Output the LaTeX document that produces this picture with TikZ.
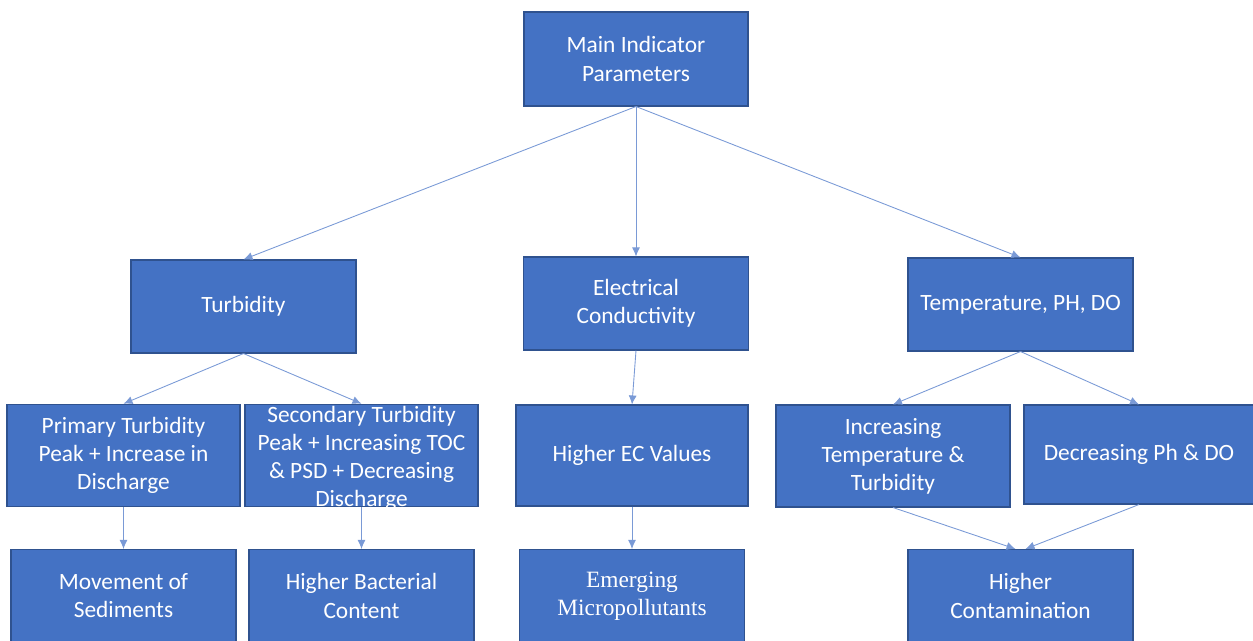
\documentclass[tikz,border=0pt]{standalone}
\usepackage{fontspec}
\usepackage{xcolor}
\setmainfont{Carlito}
\newfontfamily\serifnode{Liberation Serif}
\definecolor{boxblue}{RGB}{68,114,196}
\definecolor{boxedge}{RGB}{47,82,143}
\definecolor{linkblue}{RGB}{122,154,214}
\usetikzlibrary{positioning,
	arrows.meta}

\begin{document}
\begin{tikzpicture}[
        box/.style={draw=boxedge, line width=0.6pt, fill=boxblue, text=white, align=center,
            font=\fontsize{13.3}{16}\selectfont, minimum width=4.5cm, minimum height=1.86cm, inner sep=1pt},
        tall/.style={minimum width=4.66cm, minimum height=2.05cm},
        link/.style={draw=linkblue, line width=0.5pt, -{Latex[length=1.8mm, width=1.6mm]}}
    ]
    \clip (0, 0) rectangle (25.06, -12.82);

    % top level
    \node[box, minimum width=4.48cm, minimum height=1.88cm] (main) at (12.72, -1.18) {Main Indicator\\Parameters};

    % indicators
    \node[box] (turb) at (4.87, -6.13) {Turbidity};
    \node[box] (elec) at (12.72, -6.07) {Electrical\\Conductivity};
    \node[box] (temp) at (20.41, -6.09) {Temperature, PH, DO};

    % observations
    \node[box, tall] (prim) at (2.47, -9.11) {Primary Turbidity\\Peak + Increase in\\Discharge};
    \node[box, tall] (sec) at (7.23, -9.11) {};
    \node[text=white, align=center, font=\fontsize{13.3}{16}\selectfont] (sectext) at ([yshift=-0.06cm]sec.center)
        {Secondary Turbidity\\Peak + Increasing TOC\\\& PSD + Decreasing\\Discharge};
    \node[box, tall, minimum width=4.64cm, minimum height=2.02cm] (hec) at (12.64, -9.11) {Higher EC Values};
    \node[box, tall, minimum width=4.68cm, minimum height=2.04cm] (inct) at (17.86, -9.12) {Increasing\\Temperature \&\\Turbidity};
    \node[box, tall, minimum width=4.6cm, minimum height=1.98cm] (dec) at (22.78, -9.09) {Decreasing Ph \& DO};

    % outcomes
    \node[box] (mov) at (2.47, -11.92) {Movement of\\Sediments};
    \node[box] (bact) at (7.23, -11.92) {Higher Bacterial\\Content};
    \node[box, font=\serifnode\fontsize{13.3}{16}\selectfont] (emrg) at (12.64, -11.92) {Emerging\\Micropollutants};
    \node[box] (hcon) at (20.41, -11.92) {Higher\\Contamination};

    \draw[link] (main.south) -- (turb.north);
    \draw[link] (main.south) -- (elec.north);
    \draw[link] (main.south) -- (temp.north);

    \draw[link] (turb.south) -- (prim.north);
    \draw[link] (turb.south) -- (sec.north);
    \draw[link] (elec.south) -- (hec.north);
    \draw[link] (temp.south) -- (inct.north);
    \draw[link] (temp.south) -- (dec.north);

    \draw[link] (prim.south) -- (mov.north);
    \draw[link] (sec.south) -- (bact.north);
    \draw[link] (hec.south) -- (emrg.north);
    \draw[link] (inct.south) -- ([xshift=-1mm]hcon.north);
    \draw[link] (dec.south) -- ([xshift=1mm]hcon.north);
\end{tikzpicture}
\end{document}
